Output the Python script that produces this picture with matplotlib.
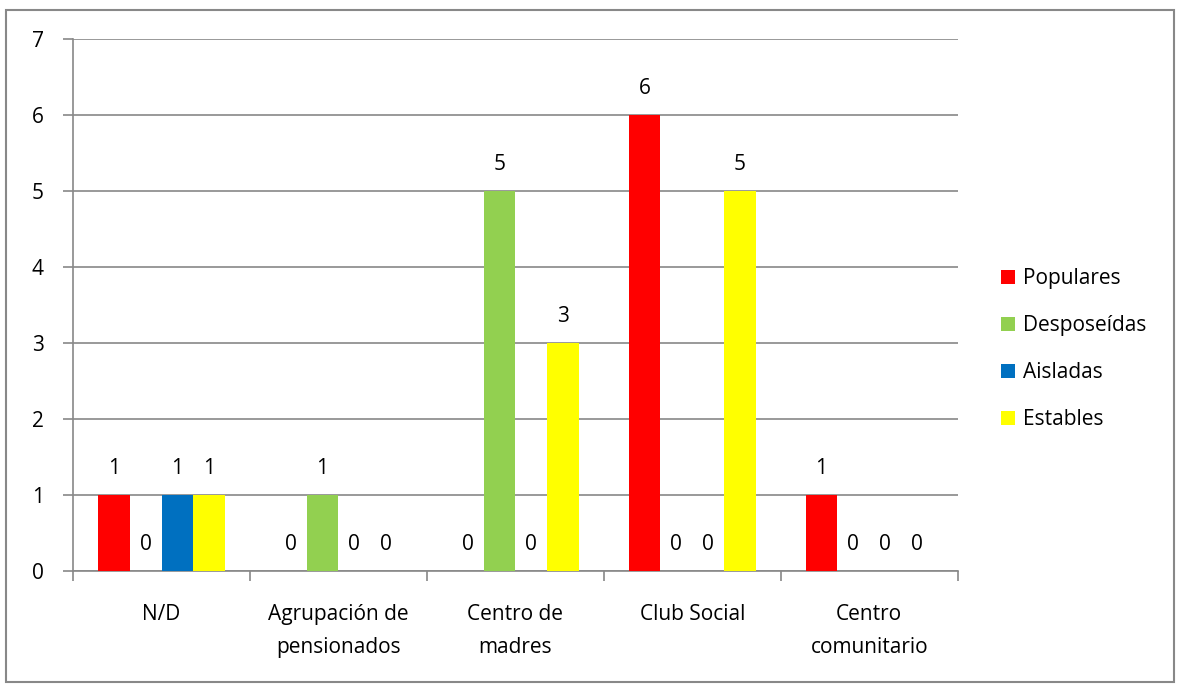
import matplotlib.pyplot as plt
from matplotlib.patches import Rectangle
import numpy as np

categories = ["N/D", "Agrupación de\npensionados", "Centro de\nmadres", "Club Social", "Centro\ncomunitario"]
series = ["Populares", "Desposeídas", "Aisladas", "Estables"]
populares = [1, 0, 0, 6, 1]
desposeidas = [0, 1, 5, 0, 0]
aisladas = [1, 0, 0, 0, 0]
estables = [1, 0, 3, 5, 0]
colors = ["#FF0000", "#92D050", "#0070C0", "#FFFF00"]

plt.rcParams['font.family'] = ['Open Sans', 'DejaVu Sans']
FS = 15

fig = plt.figure(figsize=(11.78, 6.84), dpi=100)
ax = fig.add_axes([0.062, 0.165, 0.751, 0.778])

x = np.arange(len(categories))
width = 0.18
values = [populares, desposeidas, aisladas, estables]
handles = []
for i, (name, vals, c) in enumerate(zip(series, values, colors)):
    pos = x + (i - 1.5) * width
    bars = ax.bar(pos, vals, width, color=c, label=name, zorder=3)
    handles.append(bars)
    for p, v in zip(pos, vals):
        ax.annotate(str(v), (p, v), xytext=(0, 19), textcoords='offset points',
                    ha='center', va='center', fontsize=FS, color='black')

ax.set_xlim(-0.5, len(categories) - 0.5)
ax.set_ylim(0, 7)
ax.set_yticks(range(0, 8))
ax.grid(axis='y', color='#888888', linewidth=1.2, zorder=0)
ax.set_xticks(np.arange(-0.5, len(categories), 1.0))
ax.set_xticklabels([])
ax.set_xticks(x, minor=True)
ax.set_xticklabels(categories, minor=True, fontsize=FS, linespacing=1.7)
ax.tick_params(axis='x', which='minor', length=0, pad=24)
ax.tick_params(axis='x', which='major', length=7, color='#888888', width=1.2, direction='out')
ax.tick_params(axis='y', length=7, color='#888888', width=1.2, labelsize=FS, pad=14)
for s in ['top', 'right']:
    ax.spines[s].set_visible(False)
for s in ['left', 'bottom']:
    ax.spines[s].set_color('#888888')
    ax.spines[s].set_linewidth(1.2)

leg = ax.legend(handles=handles, loc='center left', bbox_to_anchor=(1.028, 0.417), frameon=False,
                fontsize=FS, handlelength=0.65, handleheight=0.65, handletextpad=0.4,
                labelspacing=1.25)

fig.patches.append(Rectangle((0.005, 0.003), 0.992, 0.982, transform=fig.transFigure,
                             fill=False, edgecolor='#888888', linewidth=1.5))

fig.savefig("out.png", dpi=100)
